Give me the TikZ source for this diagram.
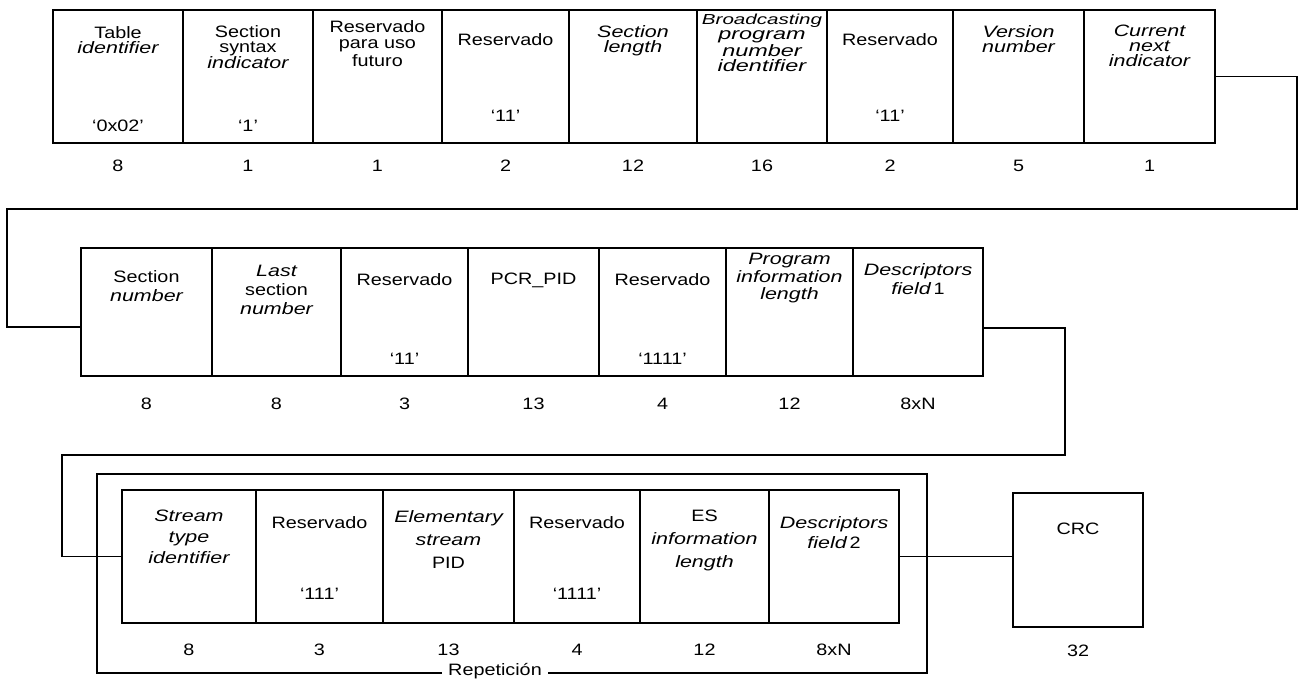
\documentclass[tikz,border=0pt]{standalone}
\usepackage{fontspec}
\setmainfont{Liberation Sans}
\usepackage{graphicx}
\usetikzlibrary{calc}
\newcommand\iw[1]{\scalebox{1.3}[1]{\itshape #1}}
\newcommand\iwn[1]{\scalebox{1.42}[1]{\itshape #1}}
\newcommand\uw[1]{\scalebox{1.2}[1]{#1}}
\def\lsk{15}
\tikzset{
  fbox/.style={draw, line width=1.8pt, inner sep=0pt},
  lbl/.style={inner sep=0pt, align=center, anchor=north, font=\fontsize{16.5}{\lsk}\selectfont},
  val/.style={inner sep=0pt, font=\fontsize{16.5}{16.5}\selectfont},
  bits/.style={inner sep=0pt, font=\fontsize{16.5}{16.5}\selectfont},
  wire/.style={line width=1.5pt},
}
\def\valoff{18}
\def\bitoff{22}
% #1 name, #2 x-left, #3 x-right, #4 top, #5 bottom, #6 label, #7 label offset, #8 value, #9 bits
\newcommand\fld[9]{%
  \node[fbox, minimum width={#3-#2}, minimum height={#5-#4}] (#1) at ({(#2+#3)/2},{(#4+#5)/2}) {};
  \node[lbl] (#1-t) at ($(#1.north)+(0,#7)$) {#6};
  \if\relax\detokenize{#8}\relax\else
    \node[val] (#1-v) at ($(#1.south)+(0,-\valoff)$) {\uw{#8}};
  \fi
  \node[bits] (#1-b) at ($(#1.south)+(0,\bitoff)$) {\uw{#9}};
}
\begin{document}
\begin{tikzpicture}[x=1pt,y=-1pt]
\useasboundingbox (0,0) rectangle (1303,691);
% ---------- row 1 ----------
\def\lsk{15}\def\valoff{18}\def\bitoff{22}
\fld{tid}{53}{183}{10}{143}{\uw{Table}\\\iw{identifier}}{17}{‘0x02’}{8}
\fld{ssi}{183}{313}{10}{143}{\uw{Section}\\\uw{syntax}\\\iw{indicator}}{16}{‘1’}{1}
\fld{rfu}{313}{442}{10}{143}{\uw{Reservado}\\[1.5pt]\uw{para uso}\\[1.5pt]\uw{futuro}}{11}{}{1}
\def\valoff{28}
\fld{ra}{442}{569}{10}{143}{\uw{Reservado}}{24}{‘11’}{2}
\fld{sl}{569}{697}{10}{143}{\iw{Section}\\\iw{length}}{16}{}{12}
\fld{bpn}{697}{827}{10}{143}{\fontsize{14.5}{13.6}\selectfont\iwn{Broadcasting}\\\iwn{program}\\\iwn{number}\\\iwn{identifier}}{5}{}{16}
\fld{rb}{827}{953}{10}{143}{\uw{Reservado}}{24}{‘11’}{2}
\fld{vn}{953}{1084}{10}{143}{\iw{Version}\\\iw{number}}{16}{}{5}
\fld{cni}{1084}{1215}{10}{143}{\iw{Current}\\\iw{next}\\\iw{indicator}}{16}{}{1}
% ---------- row 2 ----------
\def\lsk{19}\def\valoff{18}\def\bitoff{27}
\fld{sn}{81}{212}{248}{376}{\uw{Section}\\\iw{number}}{23}{}{8}
\fld{lsn}{212}{341}{248}{376}{\iw{Last}\\\uw{section}\\\iw{number}}{18}{}{8}
\fld{rc}{341}{468}{248}{376}{\uw{Reservado}}{26}{‘11’}{3}
\fld{pcr}{468}{599}{248}{376}{\uw{PCR\_PID}}{26}{}{13}
\fld{rd}{599}{726}{248}{376}{\uw{Reservado}}{26}{‘1111’}{4}
\fld{pil}{726}{853}{248}{376}{\iw{Program}\\[-1.5pt]\iw{information}\\[-1.5pt]\iw{length}}{6}{}{12}
\fld{df1}{853}{983}{248}{376}{\iw{Descriptors}\\\iw{field}\,\uw{1}}{16}{}{8xN}
% ---------- row 3 ----------
\def\lsk{21}\def\valoff{30}\def\bitoff{26}
\fld{sti}{122}{256}{490}{623}{\iw{Stream}\\\iw{type}\\\iw{identifier}}{21}{}{8}
\fld{re}{256}{383}{490}{623}{\uw{Reservado}}{27}{‘111’}{3}
\fld{esp}{383}{514}{490}{623}{\iw{Elementary}\\[2pt]\iw{stream}\\[2pt]\uw{PID}}{21}{}{13}
\fld{rf}{514}{640}{490}{623}{\uw{Reservado}}{27}{‘1111’}{4}
\fld{esi}{640}{769}{490}{623}{\uw{ES}\\[2pt]\iw{information}\\[2pt]\iw{length}}{21}{}{12}
\fld{df2}{769}{899}{490}{623}{\iw{Descriptors}\\[-1pt]\iw{field}\,\uw{2}}{27}{}{8xN}
\def\bitoff{23}
\fld{crc}{1013}{1143}{493}{627}{\uw{CRC}}{31}{}{32}
% ---------- repetition bracket ----------
\node[bits] (rep) at (495,671) {\uw{Repetición}};
\coordinate (rbl) at (97,673);
\coordinate (rtl) at (97,474);
\coordinate (rtr) at (927,474);
\coordinate (rbr) at (927,673);
\draw[wire] ([xshift=-6pt]rep.west |- rbl) -- (rbl) -- (rtl) -- (rtr) -- (rbr) -- ([xshift=6pt]rep.east |- rbr);
% ---------- connectors ----------
\coordinate (c1) at (1297,209);
\coordinate (c2) at (7,209);
\coordinate (snin) at ([yshift=-15pt]sn.west);
\draw[wire] (cni.east) -| (c1) -- (c2) |- (snin);
\coordinate (dfout) at ([yshift=-16pt]df1.east);
\coordinate (c3) at (1065,455);
\coordinate (c4) at (62,455);
\draw[wire] (dfout) -| (c3) -- (c4) |- (sti.west);
\draw[wire] (df2.east) -- (df2.east -| crc.west);
\end{tikzpicture}
\end{document}
